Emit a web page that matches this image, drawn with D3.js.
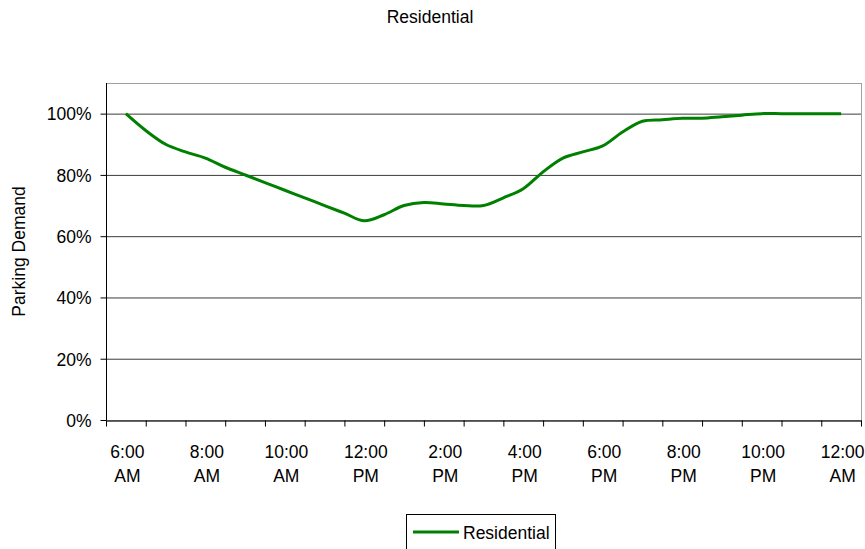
<!DOCTYPE html>
<html>
<head>
<meta charset="utf-8">
<script src="https://cdn.jsdelivr.net/npm/d3@7"></script>
<style>
  html, body { margin: 0; padding: 0; background: #fff; }
  svg { display: block; }
  text { font-family: "Liberation Sans", Arial, sans-serif; fill: #000; }
</style>
</head>
<body>
<svg id="chart" width="865" height="549"></svg>
<script>
// Time of day in hours (6 = 6:00 AM, 24 = midnight), half-hour steps
const times = [
  6, 6.5, 7, 7.5, 8, 8.5, 9, 9.5, 10, 10.5, 11, 11.5,
  12, 12.5, 13, 13.5, 14, 14.5, 15, 15.5, 16, 16.5, 17, 17.5,
  18, 18.5, 19, 19.5, 20, 20.5, 21, 21.5, 22, 22.5, 23, 23.5, 24
];

// Share of peak parking demand (%) for residential use
const residential = [
  100, 94.5, 90, 87.5, 85.5, 82.5, 80, 77.5, 75, 72.5, 70, 67.5,
  65, 67, 70, 71, 70.5, 70, 70, 72.5, 75.5, 81, 85.5, 87.5,
  89.5, 94, 97.5, 98, 98.5, 98.5, 99, 99.5, 100, 100, 100, 100, 100
];

// Labelled hours on the time axis
const labelHours = [6, 8, 10, 12, 14, 16, 18, 20, 22, 24];
const labelText = [
  "6:00 AM", "8:00 AM", "10:00 AM", "12:00 PM", "2:00 PM",
  "4:00 PM", "6:00 PM", "8:00 PM", "10:00 PM", "12:00 AM"
];
// Tick marks fall half an hour either side of each hour
const tickHours = d3.range(5.5, 25, 1);

const yTicks = [0, 20, 40, 60, 80, 100];
const seriesName = "Residential";
const chartTitle = "Residential";
const yTitle = "Parking Demand";

const svg = d3.select("#chart");
const plotLeft = 106, plotRight = 861, plotTop = 83, plotBottom = 420;
const plotW = plotRight - plotLeft, plotH = plotBottom - plotTop;
const green = "#008000";
const font = 17.5;

const x = d3.scaleLinear().domain([5.5, 24.5]).range([plotLeft, plotRight]);
const y = d3.scaleLinear().domain([0, 110]).range([plotBottom, plotTop]);

// Title
svg.append("text")
  .attr("x", 430).attr("y", 23)
  .attr("text-anchor", "middle")
  .style("font-size", font + "px")
  .text(chartTitle);

// Plot area frame (light border on top and right)
svg.append("rect")
  .attr("x", plotLeft + 0.5).attr("y", plotTop + 0.5)
  .attr("width", plotW).attr("height", plotH)
  .attr("fill", "#fff")
  .attr("stroke", "#a0a0a0").attr("stroke-width", 1);

// Horizontal gridlines
const grid = svg.append("g")
  .attr("transform", `translate(${plotLeft},0)`)
  .call(d3.axisLeft(y).tickValues(yTicks.filter(d => d > 0)).tickSize(-plotW).tickFormat(""));
grid.select(".domain").remove();
grid.selectAll(".tick line")
  .attr("stroke", "#3c3c3c").attr("stroke-width", 1);

// Y axis with percentage labels
const yAxis = svg.append("g")
  .attr("transform", `translate(${plotLeft + 0.5},0)`)
  .call(d3.axisLeft(y).tickValues(yTicks).tickSize(6).tickSizeOuter(0).tickPadding(9)
    .tickFormat(d => d + "%"));
yAxis.select(".domain").attr("stroke", "#000").attr("d", `M0,${plotTop}V${plotBottom}`);
yAxis.selectAll(".tick line").attr("stroke", "#000");
yAxis.selectAll(".tick text")
  .style("font-size", font + "px")
  .style("font-family", "'Liberation Sans', Arial, sans-serif")
  .attr("fill", "#000")
  .attr("dy", "0.36em");

// X axis tick marks
const xTicks = svg.append("g")
  .attr("transform", `translate(0,${plotBottom + 0.5})`)
  .call(d3.axisBottom(x).tickValues(tickHours).tickSize(6).tickSizeOuter(0).tickFormat(""));
xTicks.select(".domain").attr("stroke", "#333").attr("stroke-width", 1.5);
xTicks.selectAll(".tick line").attr("stroke", "#000");

// X axis labels, split over two lines
const xLabels = svg.append("g")
  .attr("transform", `translate(0,${plotBottom})`)
  .call(d3.axisBottom(x).tickValues(labelHours).tickSize(0).tickFormat(""));
xLabels.select(".domain").remove();
xLabels.selectAll(".tick").each(function (d, i) {
  const parts = labelText[i].split(" ");
  const t = d3.select(this).append("text")
    .attr("text-anchor", "middle")
    .attr("fill", "#000")
    .style("font-size", font + "px");
  t.append("tspan").attr("x", 1).attr("y", 38).text(parts[0]);
  t.append("tspan").attr("x", 1).attr("y", 62).text(parts[1]);
});

// Demand line
const line = d3.line()
  .x((d, i) => x(times[i]))
  .y(d => y(d))
  .curve(d3.curveCatmullRom.alpha(0.5));

svg.append("path")
  .datum(residential)
  .attr("fill", "none")
  .attr("stroke", green)
  .attr("stroke-width", 3)
  .attr("stroke-linejoin", "round")
  .attr("d", line);

// Y axis title
svg.append("text")
  .attr("transform", `translate(25,${(plotTop + plotBottom) / 2}) rotate(-90)`)
  .attr("text-anchor", "middle")
  .style("font-size", font + "px")
  .text(yTitle);

// Legend
const legend = svg.append("g");
legend.append("rect")
  .attr("x", 406.5).attr("y", 514.5)
  .attr("width", 149).attr("height", 45)
  .attr("fill", "#fff").attr("stroke", "#000").attr("stroke-width", 1);
legend.append("line")
  .attr("x1", 413).attr("x2", 459)
  .attr("y1", 532).attr("y2", 532)
  .attr("stroke", green).attr("stroke-width", 3);
legend.append("text")
  .attr("x", 463).attr("y", 539)
  .style("font-size", font + "px")
  .text(seriesName);
</script>
</body>
</html>
